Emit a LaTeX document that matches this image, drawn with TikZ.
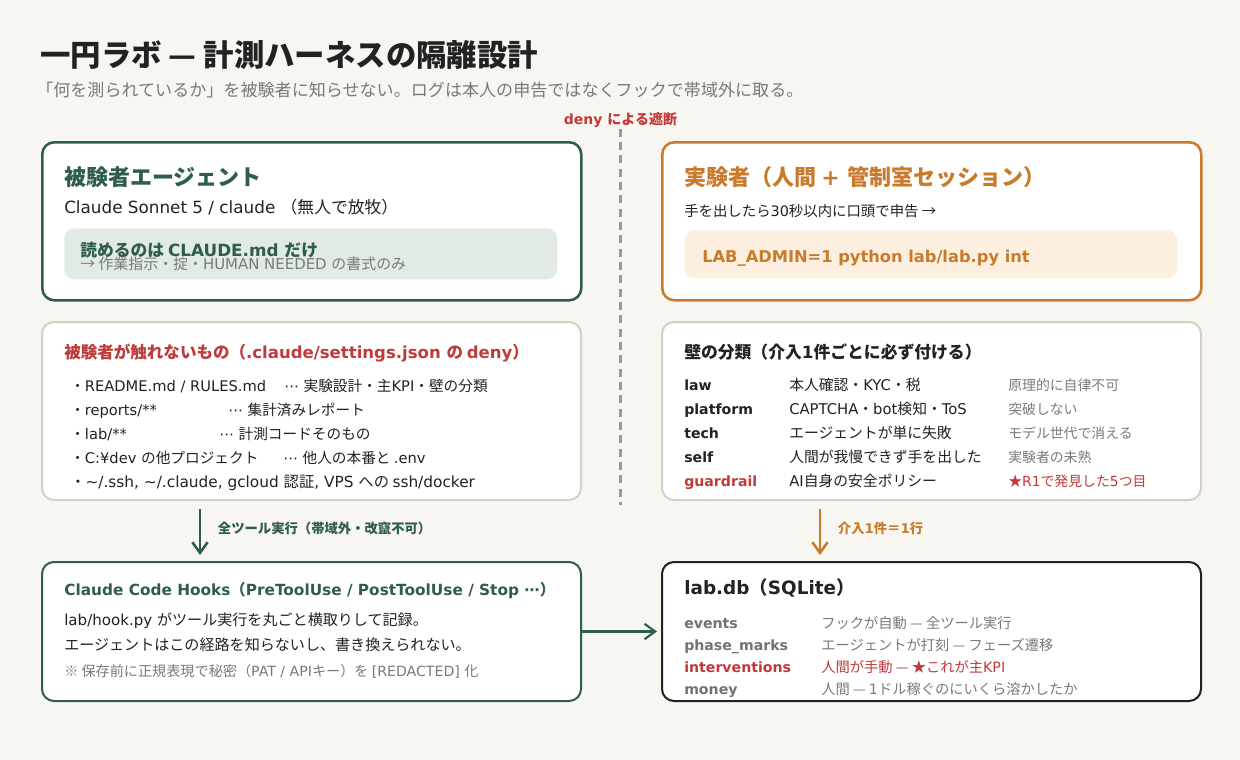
\documentclass[tikz,border=0pt]{standalone}
\usepackage{fontspec}
\setmainfont{DejaVu Sans}
\newfontfamily\cjkfam{Noto Sans CJK JP}
\usetikzlibrary{arrows.meta, positioning}

% Japanese runs in Noto, Latin runs in DejaVu
\XeTeXinterchartokenstate=1
\newXeTeXintercharclass\cjkcls
\newcount\cjkc
\def\cjkrange#1#2{\cjkc=#1 \loop\XeTeXcharclass\cjkc=\cjkcls\ifnum\cjkc<#2 \advance\cjkc by 1 \repeat}
\cjkrange{"3000}{"30FF}
\cjkrange{"4E00}{"9FFF}
\cjkrange{"FF00}{"FFEF}
\XeTeXcharclass"2014=\cjkcls
\XeTeXcharclass"2192=\cjkcls
\XeTeXcharclass"2605=\cjkcls
\XeTeXcharclass"203B=\cjkcls
\XeTeXinterchartoks 0 \cjkcls = {\cjkfam}
\XeTeXinterchartoks 4095 \cjkcls = {\cjkfam}
\XeTeXinterchartoks \cjkcls 0 = {\rmfamily}
\XeTeXinterchartoks 4095 0 = {\rmfamily}

\definecolor{paper}{HTML}{F8F6F1}
\definecolor{subjgreen}{HTML}{2F5D4B}
\definecolor{expor}{HTML}{C97B2C}
\definecolor{denyred}{HTML}{C0393B}
\definecolor{inkdark}{HTML}{222222}
\definecolor{inkgray}{HTML}{7A7A75}
\definecolor{keygray}{HTML}{6E7571}
\definecolor{rulegray}{HTML}{D4D0C5}
\definecolor{dashgray}{HTML}{9C9A95}
\definecolor{greenfill}{HTML}{E1EBE4}
\definecolor{orfill}{HTML}{FCEFDF}

\tikzset{
  txt/.style={anchor=base west, inner sep=0pt},
  panel/.style={anchor=north west, inner sep=0pt, fill=white, rounded corners=9pt},
  chip/.style={anchor=north west, inner sep=0pt, rounded corners=7.5pt},
  boxtitle/.style={txt, font=\bfseries\fontsize{16.5}{19}\selectfont},
  bodytxt/.style={txt, text=inkdark, font=\fontsize{11.3}{14}\selectfont},
  smalltxt/.style={txt, text=inkdark, font=\fontsize{11}{13}\selectfont},
  wallkey/.style={txt, text=inkdark, font=\bfseries\fontsize{10.6}{13}\selectfont},
  wallwhat/.style={txt, text=inkdark, font=\fontsize{11.1}{13}\selectfont},
  wallnote/.style={txt, text=inkgray, font=\fontsize{10.4}{13}\selectfont},
  dbkey/.style={txt, text=keygray, font=\bfseries\fontsize{10.6}{13}\selectfont},
  dbwhat/.style={txt, text=inkgray, font=\fontsize{10.7}{13}\selectfont},
  arrowlbl/.style={inner sep=0pt, font=\bfseries\fontsize{10}{12}\selectfont},
  flow/.style={-{Straight Barb[length=8pt, width=11.5pt]}, line width=1.9pt},
  divider/.style={dashgray, line width=1.9pt, dash pattern=on 6pt off 4pt}
}

\begin{document}
\begin{tikzpicture}[x=0.75pt, y=-0.75pt]
\useasboundingbox[fill=paper] (0,0) rectangle (1240,760);

% heading
\node (title) [txt, text=inkdark, font=\bfseries\fontsize{22.8}{26}\selectfont] at (40,66) {一円ラボ — 計測ハーネスの隔離設計};
\node (subtitle) [txt, text=inkgray, font=\fontsize{12.8}{15}\selectfont] at (36,96) {「何を測られているか」を被験者に知らせない。ログは本人の申告ではなくフックで帯域外に取る。};

% deny wall between the two sides
\node (denylbl) [anchor=base, inner sep=1pt, text=denyred, font=\bfseries\fontsize{10.5}{12}\selectfont] at (620.5,124) {deny による遮断};
\coordinate (divend) at (620.5,505);
\draw[divider] (denylbl.south) -- (divend);

% subject side
\node (subject) [panel, draw=subjgreen, line width=1.9pt, minimum width=404.25pt, minimum height=118.5pt] at (41,141) {};
\node (subjname) [boxtitle, text=subjgreen] at (64,185) {被験者エージェント};
\node (subjmodel) [bodytxt, font=\fontsize{12.6}{15}\selectfont] at (64,213) {Claude Sonnet 5 / claude （無人で放牧）};
\node (readonly) [chip, fill=greenfill, minimum width=369.75pt, minimum height=38.25pt] at (64,228) {};
\node (readwhat) [txt, text=subjgreen, font=\bfseries\fontsize{12.6}{15}\selectfont] at (80,256) {読めるのは CLAUDE.md だけ};
\node (readnote) [txt, text=inkgray, font=\fontsize{11.2}{13}\selectfont] at (80,269) {→ 作業指示・掟・HUMAN NEEDED の書式のみ};

% experimenter side
\node (experimenter) [panel, draw=expor, line width=1.9pt, minimum width=404.25pt, minimum height=118.5pt] at (661,141) {};
\node (expname) [boxtitle, text=expor] at (684,185) {実験者（人間 + 管制室セッション）};
\node (expnote) [smalltxt, font=\fontsize{10.8}{13}\selectfont] at (684,216) {手を出したら30秒以内に口頭で申告 →};
\node (admincmd) [chip, fill=orfill, minimum width=369.75pt, minimum height=36pt] at (684,230) {};
\node (admintxt) [txt, text=expor, font=\bfseries\fontsize{12.2}{15}\selectfont] at (702,262) {LAB\_ADMIN=1 python lab/lab.py int};

% what the subject cannot touch
\node (forbid) [panel, draw=rulegray, line width=1.5pt, minimum width=404.25pt, minimum height=133.5pt] at (41,321) {};
\node (forbidttl) [txt, text=denyred, font=\bfseries\fontsize{12.4}{15}\selectfont] at (64,358) {被験者が触れないもの（.claude/settings.json の deny）};
\node (fb1) [smalltxt] at (70,391) {・README.md / RULES.md};
\node (fb1d) [smalltxt] at (284,391) {⋯ 実験設計・主KPI・壁の分類};
\node (fb2) [smalltxt] at (70,415) {・reports/**};
\node (fb2d) [smalltxt] at (228,415) {⋯ 集計済みレポート};
\node (fb3) [smalltxt] at (70,439) {・lab/**};
\node (fb3d) [smalltxt] at (219,439) {⋯ 計測コードそのもの};
\node (fb4) [smalltxt] at (70,463) {・C:¥dev の他プロジェクト};
\node (fb4d) [smalltxt] at (283,463) {⋯ 他人の本番と .env};
\node (fb5) [smalltxt, font=\fontsize{11.5}{13}\selectfont] at (70,487) {・\textasciitilde/.ssh, \textasciitilde/.claude, gcloud 認証, VPS への ssh/docker};

% wall taxonomy
\node (walls) [panel, draw=rulegray, line width=1.5pt, minimum width=404.25pt, minimum height=133.5pt] at (661,321) {};
\node (wallttl) [txt, text=inkdark, font=\bfseries\fontsize{12.6}{14}\selectfont] at (684,358) {壁の分類（介入1件ごとに必ず付ける）};
\node (lawkey) [wallkey] at (684,390) {law};
\node (lawwhat) [wallwhat] at (789,390) {本人確認・KYC・税};
\node (lawnote) [wallnote] at (1008,390) {原理的に自律不可};
\node (platkey) [wallkey] at (684,414) {platform};
\node (platwhat) [wallwhat] at (789,414) {CAPTCHA・bot検知・ToS};
\node (platnote) [wallnote] at (1008,414) {突破しない};
\node (techkey) [wallkey] at (684,438) {tech};
\node (techwhat) [wallwhat] at (789,438) {エージェントが単に失敗};
\node (technote) [wallnote] at (1008,438) {モデル世代で消える};
\node (selfkey) [wallkey] at (684,462) {self};
\node (selfwhat) [wallwhat] at (789,462) {人間が我慢できず手を出した};
\node (selfnote) [wallnote] at (1008,462) {実験者の未熟};
\node (guardkey) [wallkey, text=denyred] at (684,486) {guardrail};
\node (guardwhat) [wallwhat] at (789,486) {AI自身の安全ポリシー};
\node (guardnote) [wallnote, text=denyred] at (1008,486) {★R1で発見した5つ目};

% hooks
\node (hooks) [panel, draw=subjgreen, line width=1.5pt, minimum width=404.25pt, minimum height=104.25pt] at (41,561) {};
\node (hooksttl) [txt, text=subjgreen, font=\bfseries\fontsize{11.5}{14}\selectfont] at (64,595) {Claude Code Hooks（PreToolUse / PostToolUse / Stop ⋯）};
\node (hooks1) [bodytxt] at (64,625) {lab/hook.py がツール実行を丸ごと横取りして記録。};
\node (hooks2) [bodytxt] at (64,650) {エージェントはこの経路を知らないし、書き換えられない。};
\node (hooks3) [txt, text=inkgray, font=\fontsize{10.6}{12}\selectfont] at (64,676) {※ 保存前に正規表現で秘密（PAT / APIキー）を [REDACTED] 化};

% database
\node (labdb) [panel, draw=inkdark, line width=1.5pt, minimum width=404.25pt, minimum height=104.25pt] at (661,561) {};
\node (dbttl) [txt, text=inkdark, font=\bfseries\fontsize{13.8}{17}\selectfont] at (684,594) {lab.db（SQLite）};
\node (evkey) [dbkey] at (684,628) {events};
\node (evwhat) [dbwhat] at (821,628) {フックが自動 — 全ツール実行};
\node (phkey) [dbkey] at (684,650) {phase\_marks};
\node (phwhat) [dbwhat] at (821,650) {エージェントが打刻 — フェーズ遷移};
\node (ivkey) [dbkey, text=denyred] at (684,672) {interventions};
\node (ivwhat) [dbwhat, text=denyred] at (821,672) {人間が手動 — ★これが主KPI};
\node (mnkey) [dbkey] at (684,694) {money};
\node (mnwhat) [dbwhat] at (821,694) {人間 — 1ドル稼ぐのにいくら溶かしたか};

% flows
\draw[flow, subjgreen] ([xshift=119.25pt, yshift=-6pt]forbid.south west) -- ([xshift=119.25pt, yshift=4.5pt]hooks.north west)
  node[arrowlbl, text=subjgreen, pos=0.42, right=12.5pt] {全ツール実行（帯域外・改竄不可）};
\draw[flow, expor] ([xshift=119.25pt, yshift=-6pt]walls.south west) -- ([xshift=119.25pt, yshift=4.5pt]labdb.north west)
  node[arrowlbl, text=expor, pos=0.42, right=12.5pt] {介入1件＝1行};
\draw[flow, subjgreen, line width=1.6pt] (hooks.east) -- ([xshift=-3pt]labdb.west);
\end{tikzpicture}
\end{document}
